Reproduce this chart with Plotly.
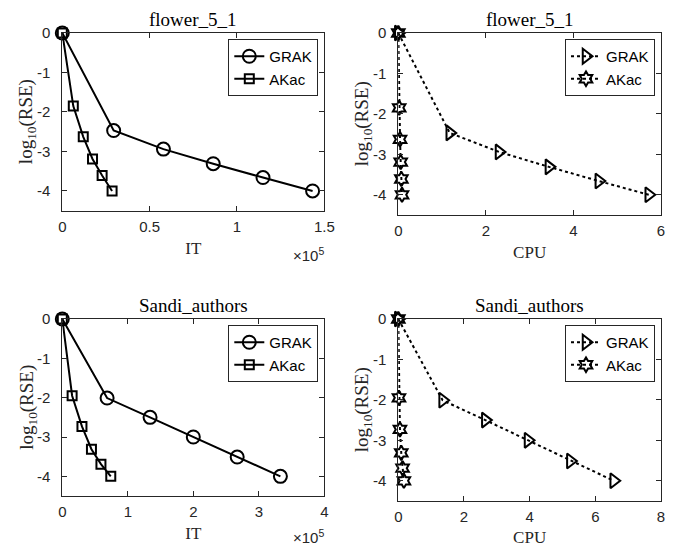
import plotly.graph_objects as go

# ---------------- data ----------------
# flower_5_1
f_it_grak = [0, 29400, 57900, 86400, 114900, 143300]
f_rse_grak = [0, -2.47, -2.94, -3.31, -3.66, -4.0]
f_it_akac = [0, 6300, 12000, 17300, 22800, 28500]
f_rse_akac = [0, -1.85, -2.63, -3.19, -3.61, -4.0]
f_cpu_grak = [0, 1.175, 2.30, 3.44, 4.58, 5.72]
f_cpu_akac = [0, 0.02, 0.04, 0.055, 0.07, 0.085]

# Sandi_authors
s_it_grak = [0, 68400, 134000, 200000, 267000, 333000]
s_rse_grak = [0, -2.01, -2.50, -3.0, -3.51, -4.0]
s_it_akac = [0, 15000, 30000, 44500, 59000, 74000]
s_rse_akac = [0, -1.95, -2.73, -3.31, -3.69, -4.0]
s_cpu_grak = [0, 1.35, 2.65, 3.95, 5.24, 6.56]
s_cpu_akac = [0, 0.02, 0.05, 0.09, 0.13, 0.17]

titles = ["flower_5_1", "flower_5_1", "Sandi_authors", "Sandi_authors"]
y_ticks = [0, -1, -2, -3, -4]
y_ticktext = ["0", "-1", "-2", "-3", "-4"]
it1_ticks = [0, 50000, 100000, 150000]
it1_text = ["0", "0.5", "1", "1.5"]
it2_ticks = [0, 100000, 200000, 300000, 400000]
it2_text = ["0", "1", "2", "3", "4"]
cpu1_ticks = [0, 2, 4, 6]
cpu2_ticks = [0, 2, 4, 6, 8]

W, H = 680, 547
INK = "#262626"
SANS = "Liberation Sans, Arial, sans-serif"
SERIF = "Liberation Serif, Times New Roman, serif"

fig = go.Figure()

def px_x(p):
    return p / W

def px_y(p):
    return 1 - p / H

# panel boxes in pixels: (left, right, top, bottom)
boxes = [
    (62.3, 324.3, 33, 210.7),
    (398.3, 661, 33, 215),
    (62.3, 324.3, 319, 496),
    (398.3, 661, 319, 501),
]

def add_panel(i, xg, yg, xa, ya, solid):
    n = i + 1
    sfx = "" if n == 1 else str(n)
    leg = "legend" if n == 1 else "legend%d" % n
    if solid:
        sym_g, sz_g = "circle-open", 13
        sym_a, sz_a = "square-open", 9
        dash = "solid"
    else:
        sym_g, sz_g = "triangle-right-open", 13
        sym_a, sz_a = "hexagram-open", 11
        dash = "dot"
    fig.add_trace(go.Scatter(
        x=xg, y=yg, name="GRAK", mode="lines+markers", cliponaxis=False,
        line=dict(color="black", width=2, dash=dash),
        marker=dict(symbol=sym_g, size=sz_g, color="black", line=dict(width=2, color="black")),
        xaxis="x" + sfx, yaxis="y" + sfx, legend=leg))
    fig.add_trace(go.Scatter(
        x=xa, y=ya, name="AKac", mode="lines+markers", cliponaxis=False,
        line=dict(color="black", width=2, dash=dash),
        marker=dict(symbol=sym_a, size=sz_a, color="black", line=dict(width=2, color="black")),
        xaxis="x" + sfx, yaxis="y" + sfx, legend=leg))

add_panel(0, f_it_grak, f_rse_grak, f_it_akac, f_rse_akac, True)
add_panel(1, f_cpu_grak, f_rse_grak, f_cpu_akac, f_rse_akac, False)
add_panel(2, s_it_grak, s_rse_grak, s_it_akac, s_rse_akac, True)
add_panel(3, s_cpu_grak, s_rse_grak, s_cpu_akac, s_rse_akac, False)

xranges = [[0, 150000], [0, 6], [0, 400000], [0, 8]]
xticks = [(it1_ticks, it1_text), (cpu1_ticks, [str(v) for v in cpu1_ticks]),
          (it2_ticks, it2_text), (cpu2_ticks, [str(v) for v in cpu2_ticks])]
xlabels = ["IT", "CPU", "IT", "CPU"]

layout = dict(
    width=W, height=H, margin=dict(l=0, r=0, t=0, b=0, autoexpand=False),
    paper_bgcolor="white", plot_bgcolor="white", showlegend=True,
)
common = dict(showline=True, linecolor=INK, linewidth=1, mirror="ticks",
              ticks="inside", ticklen=5, tickcolor=INK, tickwidth=1,
              showgrid=False, zeroline=False, automargin=False,
              tickfont=dict(family=SANS, size=15, color=INK))
annotations = []
for i, (l, r, t, b) in enumerate(boxes):
    n = i + 1
    sfx = "" if n == 1 else str(n)
    layout["xaxis" + sfx] = dict(
        common, domain=[px_x(l), px_x(r)], range=xranges[i],
        anchor="y" + sfx, tickmode="array", tickvals=xticks[i][0], ticktext=xticks[i][1],
        ticklabelstandoff=2,
        title=dict(text=xlabels[i], font=dict(family=SERIF, size=17, color=INK), standoff=8))
    layout["yaxis" + sfx] = dict(
        common, domain=[px_y(b), px_y(t)], range=[-4.5, 0],
        anchor="x" + sfx, tickmode="array", tickvals=y_ticks, ticktext=y_ticktext,
        ticklabelstandoff=8)
    # y-axis title
    annotations.append(dict(
        text="log<sub>10</sub>(RSE)", xref="paper", yref="paper",
        x=px_x(l - 35), y=px_y((t + b) / 2), xanchor="center", yanchor="middle",
        textangle=-90, showarrow=False,
        font=dict(family=SERIF, size=19, color=INK)))
    # title
    annotations.append(dict(
        text=titles[i], xref="paper", yref="paper",
        x=px_x((l + r) / 2), y=px_y(t - 1), xanchor="center", yanchor="bottom",
        showarrow=False, font=dict(family=SERIF, size=19, color="black")))
    # legend
    leg = "legend" if n == 1 else "legend%d" % n
    layout[leg] = dict(
        x=px_x(r - 6), y=px_y(t + 6), xanchor="right", yanchor="top",
        bordercolor=INK, borderwidth=1, bgcolor="white",
        font=dict(family=SANS, size=15, color="black"),
        tracegroupgap=0, itemwidth=30)
    if i in (0, 2):
        annotations.append(dict(
            text="\u00d710<sup>5</sup>", xref="paper", yref="paper",
            x=px_x(r + 2), y=px_y(b + (44 if i == 0 else 40)), xanchor="right", yanchor="middle",
            showarrow=False, font=dict(family=SANS, size=15, color=INK)))

layout["annotations"] = annotations
fig.update_layout(**layout)
fig.write_html("out.html", config={"displayModeBar": False},
               post_script="document.body.style.margin='0';document.body.style.padding='0';")
